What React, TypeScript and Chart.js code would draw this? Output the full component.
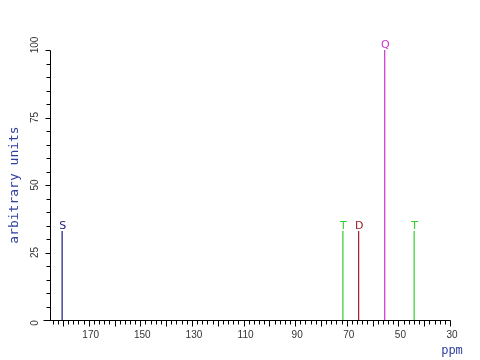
import React, { useEffect, useRef } from "react";
import { Chart, registerables } from "chart.js";

Chart.register(...registerables);

const peakShifts = [180.3, 71.5, 65.4, 55.3, 43.9];
const peakHeights = [33, 33, 33, 100, 33];
const peakLabels = ["S", "T", "D", "Q", "T"];
const peakColors = ["#1c1c80", "#33cc33", "#9c1c2c", "#cc33cc", "#33cc33"];

const xMin = 30;
const xMax = 185;
const yMin = 0;
const yMax = 100;
const xLabelTicks = [170, 150, 130, 110, 90, 70, 50, 30];
const yLabelTicks = [0, 25, 50, 75, 100];
const xTitle = "ppm";
const yTitle = "arbitrary units";

const axisPlugin = {
  id: "nmrAxes",
  afterDraw(chart: any) {
    const ctx = chart.ctx;
    const xs = chart.scales.x;
    const ys = chart.scales.y;
    const area = chart.chartArea;
    const y0 = Math.round(ys.getPixelForValue(yMin)) + 0.5;
    const x0 = Math.round(area.left) + 0.5;
    ctx.save();
    ctx.strokeStyle = "#000";
    ctx.lineWidth = 1;
    ctx.beginPath();
    ctx.moveTo(x0 - 7, y0);
    ctx.lineTo(Math.round(xs.getPixelForValue(xMin)) + 0.5, y0);
    ctx.moveTo(x0, y0);
    ctx.lineTo(x0, Math.round(ys.getPixelForValue(yMax)) + 0.5);
    // x ticks
    for (let v = xMin; v <= xMax; v += 2) {
      const px = Math.round(xs.getPixelForValue(v)) + 0.5;
      const len = v % 10 === 0 ? 6 : 4;
      ctx.moveTo(px, y0);
      ctx.lineTo(px, y0 + len);
    }
    // y ticks
    for (let v = yMin; v <= yMax; v += 5) {
      const py = Math.round(ys.getPixelForValue(v)) + 0.5;
      const len = v % 25 === 0 ? 5 : 4;
      ctx.moveTo(x0, py);
      ctx.lineTo(x0 - len, py);
    }
    ctx.stroke();

    ctx.fillStyle = "#333";
    ctx.font = "10px 'Liberation Sans', sans-serif";
    ctx.textAlign = "center";
    ctx.textBaseline = "middle";
    xLabelTicks.forEach((v) => {
      ctx.fillText(String(v), xs.getPixelForValue(v) + 2, y0 + 15);
    });
    yLabelTicks.forEach((v) => {
      const shift = v === yMax ? -5 : v === yMin ? 3 : 0;
      ctx.save();
      ctx.translate(area.left - 15, ys.getPixelForValue(v) + shift);
      ctx.rotate(-Math.PI / 2);
      ctx.fillText(String(v), 0, 0);
      ctx.restore();
    });

    ctx.fillStyle = "#3040a0";
    ctx.font = "12px 'DejaVu Sans Mono', monospace";
    ctx.fillText(xTitle, xs.getPixelForValue(xMin) + 2, y0 + 30);
    ctx.save();
    ctx.translate(15, (area.top + area.bottom) / 2);
    ctx.rotate(-Math.PI / 2);
    ctx.font = "13px 'DejaVu Sans Mono', monospace";
    ctx.fillText(yTitle, 0, 0);
    ctx.restore();

    // peak letters
    ctx.font = "11px 'DejaVu Sans', sans-serif";
    ctx.textBaseline = "alphabetic";
    peakShifts.forEach((s, i) => {
      ctx.fillStyle = peakColors[i];
      ctx.fillText(peakLabels[i], xs.getPixelForValue(s) + 0.5, ys.getPixelForValue(peakHeights[i]) - 2);
    });
    ctx.restore();
  },
};

export default function App() {
  const ref = useRef<HTMLCanvasElement | null>(null);
  useEffect(() => {
    if (!ref.current) return;
    const datasets = peakShifts.map((s, i) => ({
      label: peakLabels[i],
      data: [
        { x: s, y: 0 },
        { x: s, y: peakHeights[i] },
      ],
      borderColor: peakColors[i],
      backgroundColor: peakColors[i],
      borderWidth: 1.2,
      pointRadius: 0,
      showLine: true,
      fill: false,
    }));
    const chart = new Chart(ref.current, {
      type: "scatter",
      data: { datasets },
      options: {
        responsive: false,
        animation: false,
        layout: { padding: { left: 50, right: 30, top: 50, bottom: 40 } },
        plugins: { legend: { display: false }, tooltip: { enabled: false } },
        scales: {
          x: { type: "linear", min: xMin, max: xMax, reverse: true, display: false },
          y: { type: "linear", min: yMin, max: yMax, display: false },
        },
      },
      plugins: [axisPlugin],
    });
    return () => chart.destroy();
  }, []);
  return (
    <div style={{ position: "fixed", left: 0, top: 0, width: 480, height: 360, background: "#fff" }}>
      <canvas ref={ref} width={480} height={360} style={{ display: "block" }} />
    </div>
  );
}
